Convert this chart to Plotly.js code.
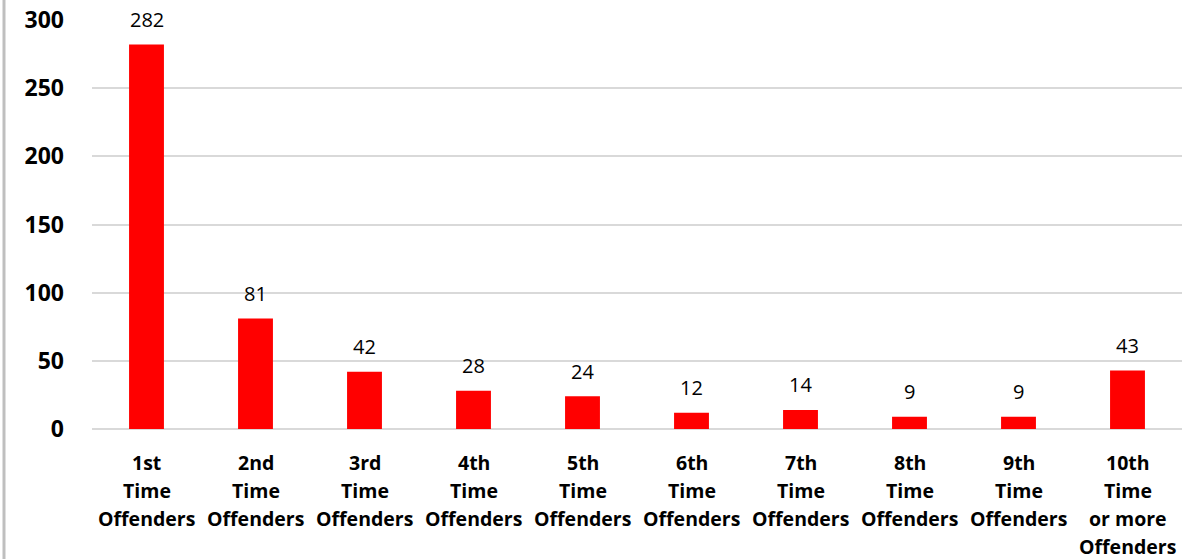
<!DOCTYPE html>
<html><head><meta charset="utf-8">
<script src="https://cdn.plot.ly/plotly-3.0.1.min.js"></script>
<style>html,body{margin:0;padding:0;background:#fff}#c{width:1191px;height:559px}</style>
</head><body><div id="c"></div>
<script>
const categories = ["1st Time Offenders","2nd Time Offenders","3rd Time Offenders","4th Time Offenders","5th Time Offenders","6th Time Offenders","7th Time Offenders","8th Time Offenders","9th Time Offenders","10th Time or more Offenders"];
const categoryLines = [["1st","Time","Offenders"],["2nd","Time","Offenders"],["3rd","Time","Offenders"],["4th","Time","Offenders"],["5th","Time","Offenders"],["6th","Time","Offenders"],["7th","Time","Offenders"],["8th","Time","Offenders"],["9th","Time","Offenders"],["10th","Time","or more","Offenders"]];
const values = [282,81,42,28,24,12,14,9,9,43];
const yTicks = [0,50,100,150,200,250,300];

const FONT = 'Open Sans, sans-serif';
const annotations = [];
categories.forEach((c,i)=>{
  annotations.push({x:c,y:values[i],xref:'x',yref:'y',text:String(values[i]),showarrow:false,
    yanchor:'middle',yshift:25,font:{family:FONT,size:20,color:'#000'}});
  categoryLines[i].forEach((ln,j)=>{
    annotations.push({x:c,y:0,xref:'x',yref:'y',text:'<b>'+ln+'</b>',showarrow:false,
      yanchor:'middle',yshift:-(33+28*j),font:{family:FONT,size:19.5,color:'#000'}});
  });
});

Plotly.newPlot('c',[{
  type:'bar', x:categories, y:values,
  marker:{color:'#ff0000'},
  hoverinfo:'none'
}],{
  width:1191,height:559,
  margin:{l:92,r:9,t:20,b:130},
  paper_bgcolor:'#fff',plot_bgcolor:'#fff',
  bargap:0.68,
  showlegend:false,
  xaxis:{showticklabels:false,showgrid:false,showline:false,ticks:'',automargin:false},
  yaxis:{range:[0,300],tickvals:yTicks,ticktext:yTicks.map(String),gridcolor:'#d9d9d9',gridwidth:2,zeroline:true,zerolinecolor:'#d9d9d9',zerolinewidth:2,
    tickfont:{family:FONT,size:23,color:'#000',weight:'bold'},ticklabelstandoff:27,automargin:false},
  annotations:annotations,
  shapes:[{type:'line',xref:'paper',yref:'paper',x0:-88/1090,x1:-88/1090,y0:-130/409,y1:1+20/409,line:{color:'#bfbfbf',width:3}}]
},{staticPlot:true});
</script></body></html>
